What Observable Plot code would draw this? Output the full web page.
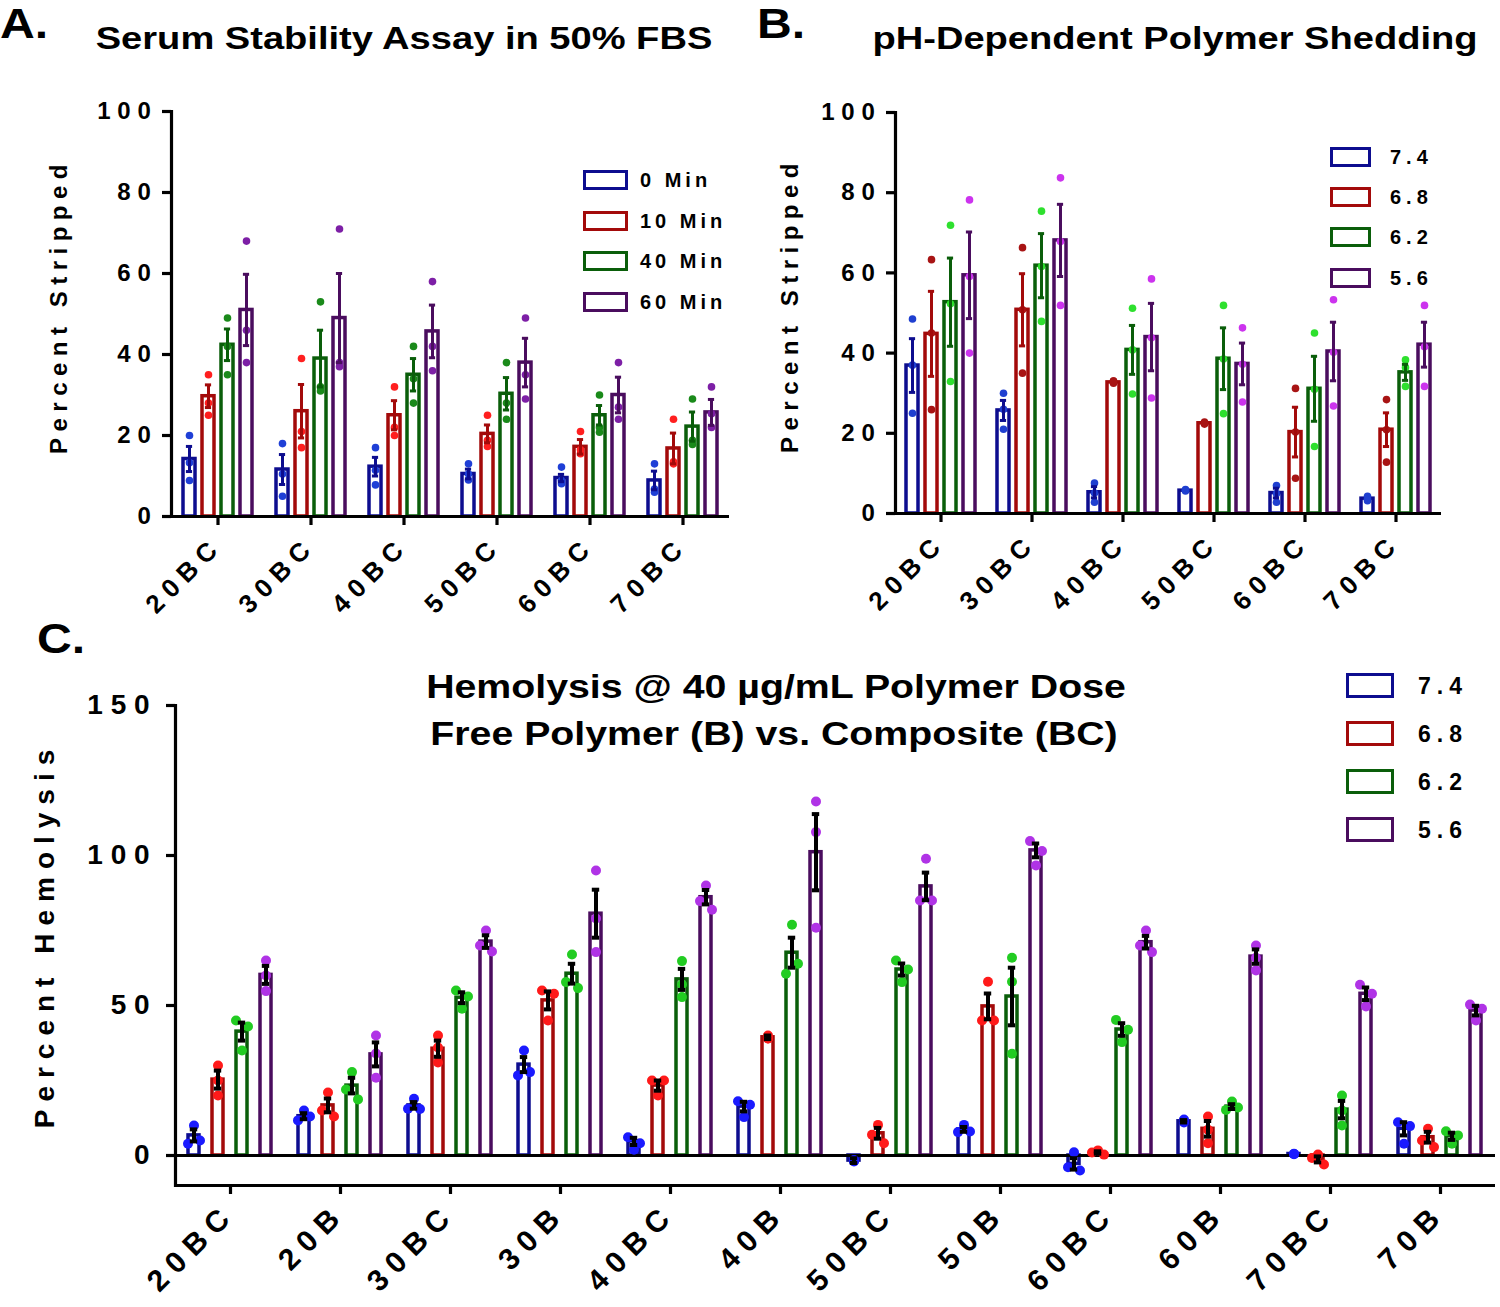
<!DOCTYPE html>
<html><head><meta charset="utf-8">
<script src="https://cdn.jsdelivr.net/npm/d3@7"></script>
<script src="https://cdn.jsdelivr.net/npm/@observablehq/plot@0.6"></script>
<style>
body{margin:0;background:#fff;}
#root{position:relative;width:1500px;height:1307px;font-family:"Liberation Sans",Arial,sans-serif;font-weight:bold;color:#000;overflow:hidden;background:#fff}
.abs{position:absolute;white-space:nowrap;line-height:1}
.plot{position:absolute}
.ttl{transform:translate(-50%,-50%) scaleX(1.19)}
.ltr{transform:scaleX(1.12);transform-origin:0 0}
.ylab{transform:translate(-50%,-50%) rotate(-90deg)}
.box{position:absolute;box-sizing:border-box;background:#fff}
svg [aria-label="y-axis tick label"] text, svg [aria-label="fx-axis tick label"] text {letter-spacing:0.28em}
</style>
</head><body><div id="root"></div>
<script>
// ---------- Panel A: Serum stability ----------
const catsA = ["20BC","30BC","40BC","50BC","60BC","70BC"];
const seriesA = ["0 Min","10 Min","40 Min","60 Min"];
const meanA = [[14.2,29.7,42.4,51.0],[11.6,26.0,39.0,49.0],[12.3,25.0,35.0,45.7],[10.5,20.4,30.3,38.0],[9.5,17.2,25.0,30.0],[8.9,16.8,22.2,25.7]];
const semA  = [[3.1,2.8,3.9,8.8],[3.7,6.6,7.0,11.0],[2.3,3.6,4.0,6.5],[1.2,2.2,4.0,6.0],[0.9,1.8,2.4,4.4],[2.3,3.8,3.6,3.2]];
const dotsA = [
  [[20,13.3,8.9],[35,28,25],[49,42,35],[68,46,38]],
  [[18,10.5,5],[39,21,17],[53,32,31],[71,38,37]],
  [[17,11.4,7.8],[32,22,20],[42,34,28],[58,42,36]],
  [[13,10.5,9],[25,18.8,17.3],[38,28,24],[49,35,29]],
  [[12.2,8.9,8.1],[21,15.5,16.5],[30,20.8,22],[38,27,24]],
  [[13,6.8,6],[24,13,13.5],[29,18.8,17.8],[32,25.4,22]]
];
const yTicksA = [0,20,40,60,80,100];

// ---------- Panel B: pH-dependent shedding ----------
const catsB = ["20BC","30BC","40BC","50BC","60BC","70BC"];
const seriesB = ["7.4","6.8","6.2","5.6"];
const meanB = [[36.9,44.8,52.7,59.4],[25.7,50.8,61.8,68.1],[5.3,32.7,40.8,44.0],[5.7,22.5,38.6,37.3],[5.1,20.3,31.1,40.4],[3.7,20.9,35.2,42.1]];
const semB  = [[6.7,10.6,11.0,10.8],[2.5,9.0,8.0,9.0],[1.4,0.3,6.1,8.4],[0.2,0.2,7.7,5.2],[1.2,6.2,8.1,7.3],[0.3,4.2,2.0,5.6]];
const dotsB = [
  [[48.5,37,25],[63.3,45,25.9],[71.9,52.3,32.9],[78.2,59.1,40]],
  [[30,26,21],[66.3,50.8,35],[75.4,61.6,47.9],[83.7,67.8,51.9]],
  [[7.6,5.1,2.8],[33,32.5,33],[51.2,40.8,29.8],[58.5,43.8,28.8]],
  [[6,5.8,5.6],[22.8,22.3,22.5],[51.9,38.5,24.9],[46.3,37.2,27.8]],
  [[7,5,2.8],[31.2,20.3,8.8],[45,31,16.7],[53.3,40.2,26.8]],
  [[4.3,3.6,3.2],[28.4,20.9,12.8],[38.3,36.4,31.7],[51.9,41.6,31.7]]
];
const yTicksB = [0,20,40,60,80,100];

// ---------- Panel C: Hemolysis ----------
const catsC = ["20BC","20B","30BC","30B","40BC","40B","50BC","50B","60BC","60B","70BC","70B"];
const seriesC = ["7.4","6.8","6.2","5.6"];
const meanC = [[6.7,25.3,41.3,60.2],[13.1,16.7,23.3,33.7],[16.7,35.6,52.6,71.3],[30.3,51.7,60.6,80.6],[4.7,23.3,58.7,86.1],[16.3,39.4,67.6,101.1],[-1.7,7.4,62.0,89.7],[8.7,49.7,53.0,101.7],[-2.8,1.0,42.0,71.1],[11.4,8.9,16.3,66.3],[0.5,-1.3,15.3,53.9],[8.9,6.1,6.4,48.3]];
const semC  = [[2,3,3,3],[1,2.3,2.6,4],[1.1,2.7,1.8,2.1],[2.5,3,3.3,8],[1.2,1.7,3.5,2.4],[1.6,0.6,5,12.7],[0.8,1.8,2,4.6],[0.8,4.3,9.6,2.3],[1.9,0.4,2.1,2.1],[0.4,2.6,0.8,2.4],[0.3,1,2.9,2.1],[2.2,1.8,1.2,1.6]];
const dotsC = [
  [[10,3.9,5],[30,25,20],[45,43,35],[65,60,54.8]],
  [[15,11.7,13],[21,15,13],[27.8,22,18.7],[40,34,25.9]],
  [[18.9,15.6,15.5],[40,36,31],[55,53,48.9],[75,70,68]],
  [[35,26.7,27.8],[55,53.9,45],[67,57.8,55.8],[95,79,67.8]],
  [[6.1,4.1,1.9],[25,25,20],[64.8,57,52.8],[90,84.8,81.9]],
  [[18.1,16.9,12.8],[40,39,39],[76.9,60.6,63.9],[118,107.8,75.9]],
  [[-1.5,-2,-1.8],[10.2,6.9,4.1],[65,62,57.8],[98.9,85,85]],
  [[10.2,7.8,8],[57.9,45,45],[65.9,57.9,33.9],[104.8,101.5,96.7]],
  [[1.1,-3.9,-5],[1.7,1,0.3],[45.2,41.9,37.8],[75,70,67.8]],
  [[12,11,11.5],[13,8.6,4.1],[18,15.2,16],[70,65.9,61.7]],
  [[0.5,0.6,0.4],[0.3,-0.8,-3],[20,15,10],[56.9,53.9,49.7]],
  [[11.1,9.8,3.9],[8.9,5,2.8],[8.1,6.7,3.9],[50.3,48.9,45]]
];
const yTicksC = [0,50,100,150];
const yDomainC = [-10,150];

// ---------- colours ----------
const barColors = ["#0d0d8f","#a30a0a","#0a5e0a","#4a0d5e"];
const dotColorsA = ["#1f3fd6","#ff1f1f","#1a8a1a","#7d1fa6"];
const dotColorsB = ["#1f3fd0","#a81414","#2ee02e","#cc33ee"];
const dotColorsC = ["#1a1aff","#ff1a1a","#22cc22","#b033e6"];

function sidesOf(vals, thr) {
  const s = vals.map(() => 0);
  const close = (i, j) => Math.abs(vals[i] - vals[j]) < thr;
  const allTight = close(0,1) && close(1,2) && close(0,2) && Math.max(...vals) - Math.min(...vals) < thr * 0.35;
  if (allTight) return s;
  if (close(0,1) && close(1,2) && close(0,2)) return [0,-1,1];
  let best = null;
  for (let i = 0; i < vals.length; i++) for (let j = i + 1; j < vals.length; j++)
    if (close(i,j) && (!best || Math.abs(vals[i]-vals[j]) < best[2])) best = [i,j,Math.abs(vals[i]-vals[j])];
  if (best) { s[best[0]] = -1; s[best[1]] = 1; }
  return s;
}

function grouped(o) {
  const rows = [], dots = [];
  o.cats.forEach((c, ci) => o.series.forEach((s, si) => {
    rows.push({cat: c, series: s, si, mean: o.means[ci][si], sem: o.sems[ci][si]});
    const vals = o.dots[ci][si];
    const sd = o.spread ? sidesOf(vals, o.spreadThr) : vals.map(() => 0);
    vals.forEach((v, k) => dots.push({cat: c, series: s, si, value: v, side: sd[k]}));
  }));
  const marks = [];
  o.series.forEach((s, i) => {
    marks.push(Plot.barY(rows.filter(d => d.si === i), {fx: "cat", x: "series", y: "mean", fill: "none", stroke: o.barColors[i], strokeWidth: o.barSW}));
  });
  marks.push(Plot.ruleY([0], {stroke: "black", strokeWidth: 3.2}));
  if (o.bottomRule) marks.push(Plot.ruleY([o.yDomain[0]], {stroke: "black", strokeWidth: 3.2}));
  marks.push(Plot.frame({anchor: "left", facetAnchor: "left", stroke: "black", strokeWidth: 3.2}));
  o.series.forEach((s, i) => {
    [-1, 0, 1].forEach(side => {
      const dd = dots.filter(d => d.si === i && d.side === side);
      if (dd.length) marks.push(Plot.dot(dd, {fx: "cat", x: "series", y: "value", r: o.dotR, fill: o.dotColors[i], stroke: "none", dx: side * o.spread}));
    });
  });
  o.series.forEach((s, i) => {
    const rr = rows.filter(d => d.si === i && d.sem > 0.35);
    const col = o.errColor || o.barColors[i];
    marks.push(Plot.ruleX(rr, {fx: "cat", x: "series", y1: d => d.mean - d.sem, y2: d => d.mean + d.sem, stroke: col, strokeWidth: o.errSW}));
    marks.push(Plot.tickY(rr, {fx: "cat", x: "series", y: d => d.mean + d.sem, stroke: col, strokeWidth: o.errSW, insetLeft: o.capInset, insetRight: o.capInset}));
    marks.push(Plot.tickY(rr, {fx: "cat", x: "series", y: d => d.mean - d.sem, stroke: col, strokeWidth: o.errSW, insetLeft: o.capInset, insetRight: o.capInset}));
  });
  marks.push(Plot.axisY({ticks: o.yTicks, tickSize: 9, tickPadding: o.yPad, strokeWidth: 3.2, label: null, fontSize: o.yFont}));
  marks.push(Plot.axisFx({anchor: "bottom", tickRotate: -45, tickSize: 9, tickPadding: o.xPad, strokeWidth: 3.2, label: null, fontSize: o.xFont}));
  return Plot.plot({
    width: o.width, height: o.height,
    marginLeft: o.mL, marginRight: o.mR, marginTop: o.mT, marginBottom: o.mB,
    style: {fontFamily: "'Liberation Sans', Arial, sans-serif", fontWeight: "bold", color: "black", background: "transparent", overflow: "visible"},
    fx: {domain: o.cats, padding: 0, label: null},
    x: {domain: o.series, paddingInner: o.pIn, paddingOuter: o.pOut, axis: null},
    y: {domain: o.yDomain, axis: null},
    marks
  });
}

const root = document.getElementById("root");
function place(el, left, top) { el.classList.add("plot"); el.style.left = left + "px"; el.style.top = top + "px"; root.appendChild(el); }

place(grouped({cats: catsA, series: seriesA, means: meanA, sems: semA, dots: dotsA, barColors, dotColors: dotColorsA,
  width: 750, height: 620, mL: 170, mR: 20, mT: 111, mB: 104, yDomain: [0,100], yTicks: yTicksA,
  pIn: 0.375, pOut: 0.52, barSW: 3.5, dotR: 3.8, errSW: 3, capInset: 2.9, spread: 0, yFont: 24, yPad: 5, xFont: 26, xPad: 16}), 0, 0);

place(grouped({cats: catsB, series: seriesB, means: meanB, sems: semB, dots: dotsB, barColors, dotColors: dotColorsB,
  width: 750, height: 620, mL: 143, mR: 58, mT: 112, mB: 107, yDomain: [0,100], yTicks: yTicksB,
  pIn: 0.37, pOut: 0.49, barSW: 3.5, dotR: 3.8, errSW: 3, capInset: 2.9, spread: 0, yFont: 24, yPad: 5, xFont: 26, xPad: 16}), 750, 0);

place(grouped({cats: catsC, series: seriesC, means: meanC, sems: semC, dots: dotsC, barColors, dotColors: dotColorsC, errColor: "black",
  width: 1500, height: 687, mL: 172, mR: 2, mT: 85, mB: 122, yDomain: yDomainC, yTicks: yTicksC, bottomRule: true,
  pIn: 0.53, pOut: 0.51, barSW: 3.5, dotR: 5, errSW: 4, capInset: 1.8, spread: 6, spreadThr: 3.4, yFont: 28, yPad: 9, xFont: 30, xPad: 14}), 0, 620);

// ---------- text: titles, letters, axis titles, legends ----------
function txt(s, left, top, css, cls) {
  const d = document.createElement("div");
  d.className = "abs " + (cls || "");
  d.textContent = s;
  d.style.left = left + "px"; d.style.top = top + "px";
  Object.assign(d.style, css || {});
  root.appendChild(d);
  return d;
}
txt("A.", 0, 2, {fontSize: "43px"}, "ltr");
txt("B.", 757, 2, {fontSize: "43px"}, "ltr");
txt("C.", 37, 617, {fontSize: "43px"}, "ltr");
txt("Serum Stability Assay in 50% FBS", 404, 38, {fontSize: "32px"}, "ttl");
txt("pH-Dependent Polymer Shedding", 1175, 38, {fontSize: "32px"}, "ttl");
txt("Hemolysis @ 40 µg/mL Polymer Dose", 776, 686, {fontSize: "33px"}, "ttl");
txt("Free Polymer (B) vs. Composite (BC)", 774, 733, {fontSize: "33px"}, "ttl");
txt("Percent Stripped", 59, 306, {fontSize: "24px", letterSpacing: "6.5px"}, "ylab");
txt("Percent Stripped", 790, 305, {fontSize: "24px", letterSpacing: "6.5px"}, "ylab");
txt("Percent Hemolysis", 45, 935, {fontSize: "28px", letterSpacing: "8px"}, "ylab");

function legend(labels, boxLeft, firstTop, step, bw, bh, bwidth, textLeft, fontSize, ls) {
  labels.forEach((l, i) => {
    const b = document.createElement("div");
    b.className = "box";
    Object.assign(b.style, {left: boxLeft + "px", top: (firstTop + i * step) + "px", width: bw + "px", height: bh + "px", border: bwidth + "px solid " + barColors[i]});
    root.appendChild(b);
    txt(l, textLeft, firstTop + i * step + bh / 2, {fontSize: fontSize + "px", letterSpacing: ls + "px", transform: "translateY(-50%)"});
  });
}
legend(seriesA, 583, 170, 40.7, 45, 20, 3, 640, 20, 4);
legend(seriesB, 1330, 147, 40.2, 41, 20, 3, 1390, 20, 5);
legend(seriesC, 1346, 673, 48, 48, 25, 3.5, 1418, 23, 6);
</script>
</body></html>
